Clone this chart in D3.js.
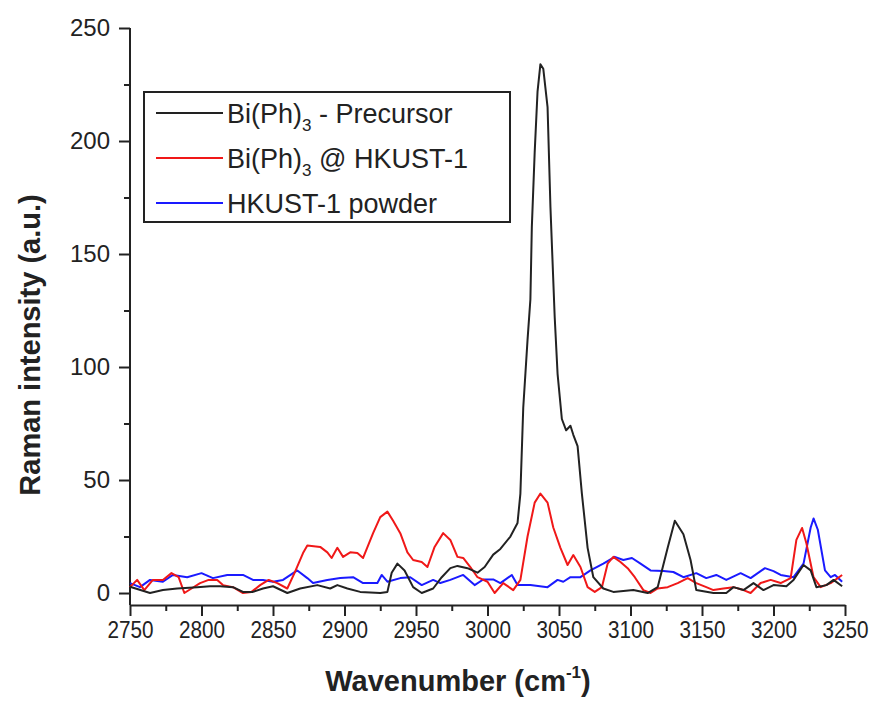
<!DOCTYPE html>
<html>
<head>
<meta charset="utf-8">
<script src="https://cdn.jsdelivr.net/npm/d3@7"></script>
<style>
    body { margin: 0; background: #fff; }
    svg { display: block; font-family: "Liberation Sans", Arial, sans-serif; }
    .axis path, .axis line { stroke: #222; stroke-width: 2px; }
    .axis text { fill: #222; }
</style>
</head>
<body>
<svg id="chart" width="873" height="705"></svg>
<script>
// Bi(Ph)3 - Precursor (wavenumber, intensity)
const precursorWn = [2750, 2764, 2773, 2783, 2797, 2806, 2813, 2822, 2829, 2836, 2843, 2850, 2860, 2869, 2881, 2890, 2895, 2902, 2911, 2925, 2930, 2933, 2937, 2942, 2948, 2954, 2962, 2968, 2974, 2979, 2986, 2993, 2998, 3004, 3009, 3016, 3021, 3023, 3025, 3028, 3030, 3031, 3033, 3035, 3037, 3039, 3042, 3044, 3047, 3049, 3052, 3055, 3058, 3060, 3063, 3066, 3070, 3074, 3081, 3088, 3102, 3112, 3119, 3126, 3131, 3137, 3142, 3146, 3158, 3167, 3172, 3179, 3186, 3193, 3200, 3209, 3214, 3221, 3226, 3230, 3237, 3242, 3248];
const precursorInt = [2.8, 0, 1.3, 2, 2.6, 3, 3, 2.6, 0.5, 0.5, 2, 3, 0, 2, 3.5, 2, 3.5, 2, 0.5, 0, 0.5, 9, 13, 10, 2.6, 0, 2, 7, 11, 12, 11, 9, 11.5, 17, 19.5, 25, 31, 44, 82, 112, 130, 162, 195, 222, 234, 232, 215, 171, 122, 97, 77, 72, 74, 70, 65, 44, 20, 7, 2, 0.5, 1.3, 0, 2.6, 20, 32, 26, 14.6, 1.3, 0, 0, 2.6, 1.3, 4.4, 1.3, 3.5, 3, 5.8, 12.4, 10, 2.6, 3.5, 5.8, 3];

// Bi(Ph)3 @ HKUST-1
const loadedWn = [2750, 2755, 2760, 2766, 2773, 2779, 2784, 2788, 2793, 2799, 2805, 2811, 2815, 2822, 2829, 2835, 2841, 2847, 2853, 2860, 2865, 2871, 2874, 2883, 2888, 2891, 2895, 2899, 2904, 2909, 2913, 2920, 2925, 2930, 2934, 2939, 2944, 2948, 2954, 2958, 2963, 2969, 2974, 2979, 2983, 2988, 2993, 3000, 3005, 3011, 3018, 3023, 3028, 3033, 3037, 3042, 3046, 3051, 3056, 3060, 3065, 3070, 3075, 3080, 3084, 3088, 3093, 3098, 3103, 3109, 3114, 3119, 3126, 3133, 3140, 3146, 3153, 3158, 3165, 3172, 3179, 3184, 3191, 3198, 3205, 3212, 3216, 3220, 3223, 3228, 3233, 3240, 3248];
const loadedInt = [2.6, 5.8, 1.3, 5.8, 5.8, 8.8, 7, 0, 2, 4.4, 5.8, 5.8, 3.5, 2.6, 0, 0.5, 3.5, 5.8, 4.4, 2, 8.8, 17.7, 21, 20.4, 18, 15.5, 20, 16, 18, 17.7, 15.5, 26.5, 33.6, 36, 32, 26.5, 18, 14.6, 13.7, 11.5, 20.4, 26.5, 23.5, 16, 15.5, 11.5, 7, 5, 0, 4.4, 1.3, 5.8, 25, 40, 44, 40, 29, 20, 12.4, 16.8, 11.5, 2.6, 0.5, 2.6, 13, 16, 13.7, 11, 7, 1.3, 0, 2, 2.6, 4.4, 6.6, 4.4, 2.6, 1.3, 2, 2.6, 1.3, 0, 4.4, 5.8, 4.4, 6.6, 23.5, 28.8, 22, 7, 2.6, 4.4, 8];

// HKUST-1 powder
const powderWn = [2750, 2757, 2764, 2773, 2780, 2790, 2800, 2808, 2818, 2829, 2836, 2843, 2850, 2857, 2867, 2874, 2878, 2888, 2897, 2906, 2913, 2923, 2926, 2930, 2939, 2946, 2954, 2962, 2967, 2974, 2983, 2991, 2997, 3004, 3009, 3017, 3021, 3030, 3042, 3049, 3053, 3058, 3065, 3072, 3081, 3089, 3095, 3101, 3107, 3114, 3123, 3130, 3137, 3146, 3153, 3160, 3167, 3177, 3184, 3194, 3200, 3205, 3214, 3221, 3226, 3228, 3231, 3236, 3240, 3243, 3248];
const powderInt = [4.4, 2.6, 5.8, 5, 8, 7, 8.8, 6.6, 8, 8, 5.8, 5.8, 5, 5.8, 10, 6.6, 4.4, 5.8, 6.6, 7, 4.4, 4.4, 8, 5, 6.6, 7, 3.5, 5.8, 4.4, 5.8, 8, 3.5, 6, 6, 4.4, 8, 3.5, 3.5, 2.6, 5.8, 5, 7, 7, 10, 13, 16, 14.6, 15.5, 13, 10, 9.7, 9.3, 7, 8.8, 6.6, 8, 5.8, 8.8, 6.6, 11, 9.7, 8, 7, 13, 29, 33, 28, 10, 7, 8, 5];

const seriesNames = ["Bi(Ph)", "Bi(Ph)", "HKUST-1 powder"];
const seriesColors = ["#222222", "#f01818", "#1a1aff"];

const xTicks = d3.range(2750, 3251, 50);
const xMinorTicks = d3.range(2775, 3250, 50);
const yTicks = d3.range(0, 251, 50);
const yMinorTicks = d3.range(25, 250, 50);

const svg = d3.select("#chart");

// Scales: the x axis sits a little below zero, as in the original plot
const x = d3.scaleLinear().domain([2750, 3250]).range([130, 845]);
const y = d3.scaleLinear().domain([-5.3, 250]).range([605, 28]);

// X axis (major ticks with labels, minor ticks without)
// the original uses a narrow face for these labels, so squeeze them a bit
svg.append("g")
    .attr("class", "axis x-axis")
    .attr("transform", `translate(0,${y(-5.3)})`)
    .call(d3.axisBottom(x).tickValues(xTicks).tickFormat(d3.format("d"))
        .tickSize(11).tickSizeOuter(0).tickPadding(6))
    .call(g => g.selectAll("text")
        .attr("font-size", "23px")
        .attr("textLength", 46)
        .attr("lengthAdjust", "spacingAndGlyphs"));

svg.append("g")
    .attr("class", "axis x-axis-minor")
    .attr("transform", `translate(0,${y(-5.3)})`)
    .call(d3.axisBottom(x).tickValues(xMinorTicks).tickSize(6).tickSizeOuter(0).tickFormat(""))
    .call(g => g.select(".domain").remove());

// Y axis
svg.append("g")
    .attr("class", "axis y-axis")
    .attr("transform", `translate(${x(2750)},0)`)
    .call(d3.axisLeft(y).tickValues(yTicks).tickSize(11).tickSizeOuter(0).tickPadding(9))
    .call(g => g.selectAll("text").attr("font-size", "24px"));

svg.append("g")
    .attr("class", "axis y-axis-minor")
    .attr("transform", `translate(${x(2750)},0)`)
    .call(d3.axisLeft(y).tickValues(yMinorTicks).tickSize(6).tickSizeOuter(0).tickFormat(""))
    .call(g => g.select(".domain").remove());

// Trim the y domain line so it stops at the 250 tick
svg.select(".y-axis .domain").attr("d", `M0,${y(-5.3)}V${y(250)}`);

// Axis titles
const xTitle = svg.append("text")
    .attr("x", 458)
    .attr("y", 691)
    .attr("text-anchor", "middle")
    .attr("font-size", "29px")
    .attr("font-weight", "bold")
    .attr("fill", "#222");
xTitle.append("tspan").text("Wavenumber (cm");
xTitle.append("tspan").attr("font-size", "17px").attr("dy", -13).text("-1");
xTitle.append("tspan").attr("dy", 13).text(")");

svg.append("text")
    .attr("transform", `translate(40,345)rotate(-90)`)
    .attr("text-anchor", "middle")
    .attr("font-size", "29px")
    .attr("font-weight", "bold")
    .attr("fill", "#222")
    .text("Raman intensity (a.u.)");

// Spectra
const line = d3.line()
    .x(d => x(d[0]))
    .y(d => y(d[1]));

const spectra = [
    d3.zip(precursorWn, precursorInt),
    d3.zip(loadedWn, loadedInt),
    d3.zip(powderWn, powderInt)
];

// draw powder first so black and red sit on top
[2, 1, 0].forEach(i => {
    svg.append("path")
        .datum(spectra[i])
        .attr("fill", "none")
        .attr("stroke", seriesColors[i])
        .attr("stroke-width", 2)
        .attr("stroke-linejoin", "round")
        .attr("d", line);
});

// Legend
const legend = svg.append("g").attr("class", "legend");

legend.append("rect")
    .attr("x", 144)
    .attr("y", 92)
    .attr("width", 366)
    .attr("height", 130)
    .attr("fill", "#fff")
    .attr("stroke", "#222")
    .attr("stroke-width", 2);

const legendSuffix = [" - Precursor", " @ HKUST-1", ""];

seriesNames.forEach((name, i) => {
    const cy = 113 + i * 45;
    legend.append("line")
        .attr("x1", 156)
        .attr("x2", 223)
        .attr("y1", cy)
        .attr("y2", cy)
        .attr("stroke", seriesColors[i])
        .attr("stroke-width", 2);

    const t = legend.append("text")
        .attr("x", 227)
        .attr("y", cy + 10)
        .attr("font-size", "27px")
        .attr("fill", "#222");
    t.append("tspan").text(name);
    if (i < 2) {
        t.append("tspan").attr("font-size", "17px").attr("dy", 8).text("3");
        t.append("tspan").attr("dy", -8).text(legendSuffix[i]);
    }
});
</script>
</body>
</html>
